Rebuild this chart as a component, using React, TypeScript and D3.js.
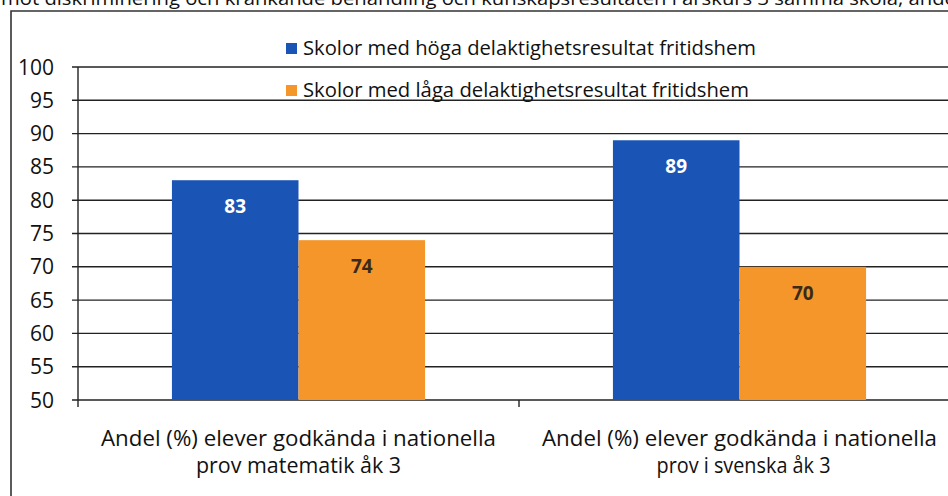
import React from 'react';
import * as d3 from 'd3';

const categories = ['matematik', 'svenska'];
const categoryLines = [
  ['Andel (%) elever godkända i nationella', 'prov matematik åk 3'],
  ['Andel (%) elever godkända i nationella', 'prov i svenska åk 3'],
];
const seriesNames = [
  'Skolor med höga delaktighetsresultat fritidshem',
  'Skolor med låga delaktighetsresultat fritidshem',
];
const highValues = [83, 89];
const lowValues = [74, 70];
const yTicks = [50, 55, 60, 65, 70, 75, 80, 85, 90, 95, 100];
const titleText =
  'mot diskriminering och kränkande behandling och kunskapsresultaten i årskurs 3 samma skola, andel';

const COLORS = ['#1a55b5', '#f5962a'];
const LABEL_COLORS = ['#ffffff', '#3a2a1a'];
const FONT = "'Open Sans', 'Noto Sans', sans-serif";

export default function App() {
  const width = 948;
  const height = 496;
  const plot = { left: 78, right: 960, top: 67, bottom: 400 };

  const y = d3.scaleLinear().domain([50, 100]).range([plot.bottom, plot.top]);
  const x = d3.scaleBand().domain(categories).range([plot.left, plot.right]);
  const inner = x.bandwidth() * 0.574;
  const sub = d3.scaleBand().domain(seriesNames).range([0, inner]);
  const offset = (x.bandwidth() - inner) / 2;

  const series = [highValues, lowValues];

  return (
    <div style={{ position: 'fixed', left: 0, top: 0, width, height, background: '#fff' }}>
      <svg width={width} height={height} style={{ display: 'block', fontFamily: FONT }}>
        <rect width={width} height={height} fill="#fff" />

        {/* title line, cut off at the top edge as in the scan */}
        <text x={1} y={5} fontSize={19} fill="#111" textLength={960} lengthAdjust="spacingAndGlyphs">
          {titleText}
        </text>

        {/* frame */}
        <path d={`M11,${height} V11 H${width}`} fill="none" stroke="#333" strokeWidth={1.6} />

        {/* gridlines + y ticks */}
        {yTicks.map(t => (
          <g key={t}>
            <line x1={plot.left - 6} x2={plot.right} y1={y(t)} y2={y(t)} stroke="#222" strokeWidth={1.4} />
            <text x={54} y={y(t) + 7.5} textAnchor="end" fontSize={21} fill="#111">
              {t}
            </text>
          </g>
        ))}

        {/* y axis */}
        <line x1={plot.left} x2={plot.left} y1={plot.top} y2={plot.bottom + 7} stroke="#222" strokeWidth={1.4} />
        {/* category separators */}
        {categories.slice(1).map(c => (
          <line key={c} x1={x(c)} x2={x(c)} y1={plot.bottom} y2={plot.bottom + 7} stroke="#222" strokeWidth={1.4} />
        ))}

        {/* bars */}
        {series.map((vals, si) =>
          vals.map((v, ci) => {
            const bx = (x(categories[ci]) as number) + offset + (sub(seriesNames[si]) as number);
            const bw = sub.bandwidth();
            return (
              <g key={`${si}-${ci}`}>
                <rect x={bx} y={y(v)} width={bw} height={y(50) - y(v)} fill={COLORS[si]} />
                <text
                  x={bx + bw / 2}
                  y={y(v) + 33}
                  textAnchor="middle"
                  fontSize={19}
                  fontWeight="bold"
                  fill={LABEL_COLORS[si]}
                >
                  {v}
                </text>
              </g>
            );
          })
        )}

        {/* legend */}
        {seriesNames.map((name, i) => {
          const ly = i === 0 ? 55 : 97;
          return (
            <g key={name}>
              <rect x={286} y={ly - 12} width={11} height={11} fill={COLORS[i]} />
              <text
                x={303}
                y={ly}
                fontSize={20}
                fill="#111"
                textLength={i === 0 ? 453 : 446}
                lengthAdjust="spacingAndGlyphs"
              >
                {name}
              </text>
            </g>
          );
        })}

        {/* category labels */}
        {categories.map((c, ci) => {
          const cx = (x(c) as number) + x.bandwidth() / 2;
          return (
            <g key={c}>
              {categoryLines[ci].map((line, li) => (
                <text
                  key={li}
                  x={cx + (ci === 1 && li === 1 ? 4 : 0)}
                  y={446 + li * 27}
                  textAnchor="middle"
                  fontSize={21}
                  fill="#111"
                  textLength={li === 0 ? 395 : ci === 0 ? 205 : 174}
                  lengthAdjust="spacingAndGlyphs"
                >
                  {line}
                </text>
              ))}
            </g>
          );
        })}
      </svg>
    </div>
  );
}
